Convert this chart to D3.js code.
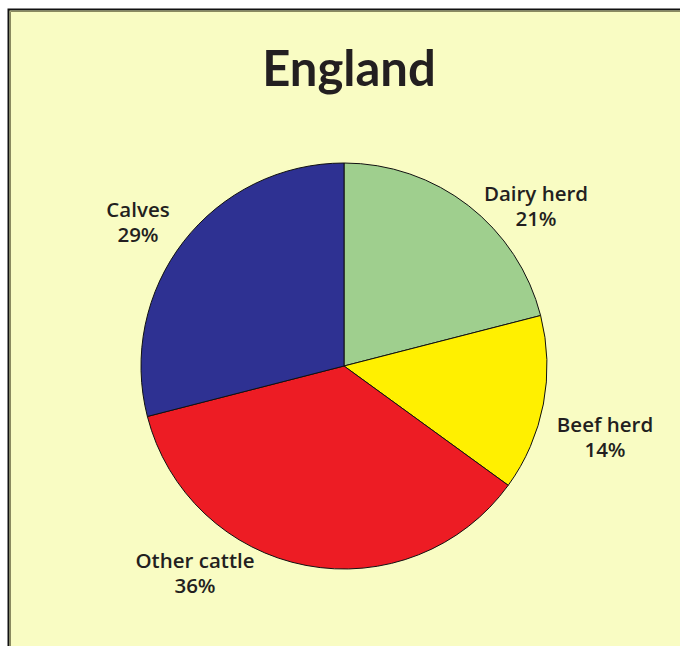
<!DOCTYPE html>
<html>
<head>
<meta charset="utf-8">
<script src="https://cdn.jsdelivr.net/npm/d3@7"></script>
<style>
  html, body { margin: 0; padding: 0; background: #ffffff; }
  svg { display: block; }
</style>
</head>
<body>
<svg id="chart" width="680" height="646"></svg>
<script>
// Cattle groups, share of total (%)
const categories = ["Dairy herd", "Beef herd", "Other cattle", "Calves"];
const shares = [21, 14, 36, 29];
const colors = ["#9fcf8e", "#fff000", "#ed1c24", "#2e3192"];
const title = "England";

// Label anchor points (centre of the two-line label)
const labelAnchors = {
  "Dairy herd":   [536, 213],
  "Beef herd":    [605, 444],
  "Other cattle": [195, 580],
  "Calves":       [138, 229]
};

const svg = d3.select("#chart");
const W = 680, H = 646;

// Panel background with dark top/left rule
svg.append("rect").attr("x", 8).attr("y", 9).attr("width", W - 8).attr("height", H - 9)
  .attr("fill", "#f9fcc3");
svg.append("path").attr("d", `M8.5,${H} V9.5 H${W}`)
  .attr("fill", "none").attr("stroke", "#111").attr("stroke-width", 2);
svg.append("path").attr("d", `M10.5,${H} V11.5 H${W}`)
  .attr("fill", "none").attr("stroke", "#8a8a60").attr("stroke-width", 1);

// Title
svg.append("text")
  .attr("x", 349).attr("y", 86)
  .attr("text-anchor", "middle")
  .attr("font-family", "Lato, 'Open Sans', sans-serif")
  .attr("font-weight", 700)
  .attr("font-size", 49)
  .attr("fill", "#231f20")
  .text(title);

// Pie
const cx = 344, cy = 366, r = 203;
const data = categories.map((c, i) => ({ name: c, value: shares[i], color: colors[i] }));
const pie = d3.pie().value(d => d.value).sort(null);
const arc = d3.arc().innerRadius(0).outerRadius(r);

const g = svg.append("g").attr("transform", `translate(${cx},${cy})`);
g.selectAll("path.slice")
  .data(pie(data))
  .join("path")
  .attr("class", "slice")
  .attr("d", arc)
  .attr("fill", d => d.data.color)
  .attr("stroke", "#111")
  .attr("stroke-width", 1);

// Labels
const lab = svg.append("g")
  .attr("font-family", "'Open Sans', sans-serif")
  .attr("font-weight", 600)
  .attr("font-size", 20.5)
  .attr("fill", "#231f20")
  .attr("text-anchor", "middle");

data.forEach(d => {
  const [x, y] = labelAnchors[d.name];
  const t = lab.append("text").attr("x", x).attr("y", y);
  t.append("tspan").attr("x", x).attr("dy", -12).text(d.name);
  t.append("tspan").attr("x", x).attr("dy", 24.5).text(d.value + "%");
});
</script>
</body>
</html>
